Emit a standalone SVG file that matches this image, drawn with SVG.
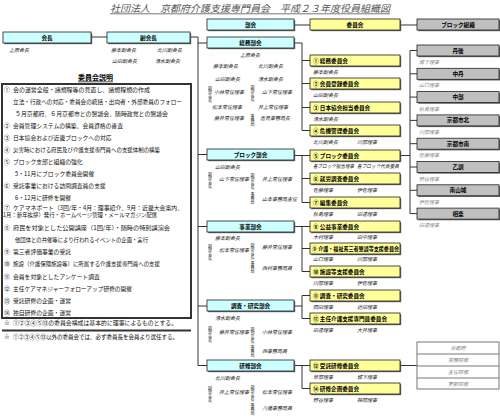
<svg xmlns="http://www.w3.org/2000/svg" width="500" height="418" viewBox="0 0 500 418">
<style>
text{font-family:"Noto Sans CJK JP","Noto Sans",sans-serif}
.bk{fill:#ccffff;stroke:#222;stroke-width:0.8}
.cm{fill:#ffff99;stroke:#222;stroke-width:0.8}
.gr{fill:#c0c0c0;stroke:#222;stroke-width:0.8}
.sh{fill:#666}
.lb{font-size:5.6px;font-weight:bold;text-anchor:middle;fill:#000}
.cl{font-size:5.6px;font-weight:bold;fill:#000}
.nm{font-size:5px;font-style:italic;fill:#222}
.gn{font-size:5px;font-style:italic;fill:#888}
.vt{font-size:4px;fill:#222;writing-mode:vertical-rl}
.ds{font-size:5.8px;fill:#111}
.ln{stroke:#333;stroke-width:1;fill:none}
</style>
<text x="250" y="12" font-size="9.6" font-style="italic" fill="#555" text-anchor="middle" textLength="280" lengthAdjust="spacingAndGlyphs">社団法人　京都府介護支援専門員会　平成２３年度役員組織図</text>
<line x1="110" y1="13.8" x2="390" y2="13.8" stroke="#555" stroke-width="0.8"/>

<g id="connectors" class="ln">
<path d="M91,37H107"/>
<path d="M190,37H198V365.5"/>
<path d="M198,43H207M198,154.5H207M198,226.5H207M198,306H207M198,365.5H207"/>
<path d="M294,25H310M400,25H417"/>
<path d="M294,43H302V130.5M302,60.5H310M302,83.5H310M302,107.5H310M302,130.5H310"/>
<path d="M294,155.5H310M302,155.5V202.5M302,178.5H310M302,202.5H310"/>
<path d="M294,226.5H310M302,226.5V271.5M302,248.5H310M302,271.5H310"/>
<path d="M294,306H302M302,295.5V318.5M302,295.5H310M302,318.5H310"/>
<path d="M294,365.5H310M302,365.5V388.5M302,388.5H310"/>
<path d="M400,155.5H410M410,50.5V213.6M410,50.5H417M410,73.8H417M410,97.1H417M410,120.4H417M410,143.7H417M410,167H417M410,190.3H417M410,213.6H417"/>
<path d="M400,365.5H417"/>
</g>

<g id="kaicho"><rect class="sh" x="4.2" y="33.2" width="88" height="11"/><rect class="bk" x="3" y="32" width="88" height="11"/><text class="lb" x="47" y="39.5">会長</text><text class="nm" x="9" y="52">上原会長</text></g>
<g id="fukukaicho"><rect class="sh" x="108.2" y="33.2" width="83" height="11"/><rect class="bk" x="107" y="32" width="83" height="11"/><text class="lb" x="148.5" y="39.5">副会長</text>
<text class="nm" x="111" y="52">藤本副会長</text><text class="nm" x="157" y="52">北川副会長</text><text class="nm" x="112" y="63">山田副会長</text><text class="nm" x="155" y="63">清水副会長</text></g>

<g id="bukai"><rect class="sh" x="208.2" y="20.2" width="87" height="11"/><rect class="bk" x="207" y="19" width="87" height="11"/><text class="lb" x="250.5" y="26.5">部会</text></g>
<g id="iinkai"><rect class="sh" x="311.2" y="20.2" width="90" height="11"/><rect class="cm" x="310" y="19" width="90" height="11"/><text class="lb" x="355" y="26.5">委員会</text></g>
<g id="block-soshiki"><rect class="sh" x="418.2" y="20.2" width="82" height="11"/><rect class="gr" x="417" y="19" width="82" height="11"/><text class="lb" x="458" y="26.5">ブロック組織</text></g>

<g id="somu-bukai"><rect class="sh" x="208.2" y="38.2" width="87" height="11"/><rect class="bk" x="207" y="37" width="87" height="11"/><text class="lb" x="250.5" y="44.5">総務部会</text>
<text class="nm" x="240" y="57">上原会長</text>
<text class="nm" x="213" y="68">藤本副会長</text><text class="nm" x="258" y="68">北川副会長</text>
<text class="nm" x="215" y="81">山田副会長</text><text class="nm" x="258" y="81">清水副会長</text>
<text class="vt" x="210" y="86">副部会長</text>
<text class="nm" x="214" y="94">小林常任理事</text>
<text class="vt" x="252.5" y="85">副部会長</text>
<text class="nm" x="262" y="94">山下常任理事</text>
<text class="nm" x="212" y="109">松本常任理事</text><text class="nm" x="258" y="109">井上常任理事</text>
<text class="nm" x="214" y="120">藤井常任理事</text>
<text class="vt" x="252.5" y="114">事務局</text>
<text class="nm" x="260" y="120">吉見事務局長</text></g>

<g id="block-bukai"><rect class="sh" x="208.2" y="150.2" width="87" height="11"/><rect class="bk" x="207" y="149" width="87" height="11"/><text class="lb" x="250.5" y="156.5">ブロック部会</text>
<text class="nm" x="215" y="169">山田副会長</text>
<text class="vt" x="210" y="172">副部会長</text>
<text class="nm" x="219" y="181">山下常任理事</text>
<text class="vt" x="252.5" y="173">副部会長</text><text class="vt" x="252.5" y="192">事務局</text>
<text class="nm" x="262" y="181">井上常任理事</text><text class="nm" x="262" y="201">山本事務局主任</text></g>

<g id="jigyo-bukai"><rect class="sh" x="208.2" y="222.2" width="87" height="11"/><rect class="bk" x="207" y="221" width="87" height="11"/><text class="lb" x="250.5" y="228.5">事業部会</text>
<text class="nm" x="215" y="240">藤本副会長</text>
<text class="vt" x="210" y="244">副部会長</text>
<text class="nm" x="219" y="252">松本常任理事</text>
<text class="vt" x="252.5" y="243">副部会長</text><text class="vt" x="252.5" y="261.5">事務局</text>
<text class="nm" x="262" y="249">藤井常任理事</text><text class="nm" x="262" y="270">西村事務局員</text></g>

<g id="chosa-bukai"><rect class="sh" x="208.2" y="301.2" width="87" height="11"/><rect class="bk" x="207" y="300" width="87" height="11"/><text class="lb" x="250.5" y="307.5">調査・研究部会</text>
<text class="nm" x="215" y="320">清水副会長</text>
<text class="vt" x="210" y="326">副部会長</text>
<text class="nm" x="219" y="334">藤井常任理事</text>
<text class="vt" x="252.5" y="327">副部会長</text><text class="vt" x="252.5" y="345.5">事務局</text>
<text class="nm" x="262" y="334">小林常任理事</text><text class="nm" x="262" y="353">西事務局員</text></g>

<g id="kenshu-bukai"><rect class="sh" x="208.2" y="361.2" width="87" height="11"/><rect class="bk" x="207" y="360" width="87" height="11"/><text class="lb" x="250.5" y="367.5">研修部会</text>
<text class="nm" x="215" y="380">北川副会長</text>
<text class="vt" x="210" y="386">副部会長</text>
<text class="nm" x="219" y="394">井上常任理事</text>
<text class="vt" x="252.5" y="385">副部会長</text><text class="vt" x="252.5" y="403.5">事務局</text>
<text class="nm" x="262" y="394">松本常任理事</text><text class="nm" x="262" y="410">八幡事務局員</text></g>

<g id="c1"><rect class="sh" x="311.2" y="56.2" width="90" height="11"/><rect class="cm" x="310" y="55" width="90" height="11"/><text class="cl" x="313" y="62.5">① 総務委員会</text><text class="nm" x="313" y="74">藤本副会長</text></g>
<g id="c2"><rect class="sh" x="311.2" y="79.2" width="90" height="11"/><rect class="cm" x="310" y="78" width="90" height="11"/><text class="cl" x="313" y="85.5">② 会員登録委員会</text><text class="nm" x="313" y="97">山田副会長</text></g>
<g id="c3"><rect class="sh" x="311.2" y="103.2" width="90" height="11"/><rect class="cm" x="310" y="102" width="90" height="11"/><text class="cl" x="313" y="109.5">③ 日本協会担当委員会</text><text class="nm" x="313" y="121">清水副会長</text></g>
<g id="c4"><rect class="sh" x="311.2" y="126.2" width="90" height="11"/><rect class="cm" x="310" y="125" width="90" height="11"/><text class="cl" x="313" y="132.5">④ 危機管理委員会</text><text class="nm" x="313" y="144">北川副会長</text><text class="nm" x="357" y="144">川部理事</text></g>
<g id="c5"><rect class="sh" x="311.2" y="151.2" width="90" height="11"/><rect class="cm" x="310" y="150" width="90" height="11"/><text class="cl" x="313" y="157.5">⑤ ブロック委員会</text><text class="nm" x="313" y="168" textLength="41" lengthAdjust="spacingAndGlyphs">各ブロック担当理事</text><text class="nm" x="357" y="168" textLength="42" lengthAdjust="spacingAndGlyphs">各ブロック代表委員</text></g>
<g id="c6"><rect class="sh" x="311.2" y="174.2" width="90" height="11"/><rect class="cm" x="310" y="173" width="90" height="11"/><text class="cl" x="313" y="180.5">⑥ 就労調査委員会</text><text class="nm" x="313" y="192">佐藤理事</text><text class="nm" x="357" y="192">伊佐理事</text></g>
<g id="c7"><rect class="sh" x="311.2" y="198.2" width="90" height="11"/><rect class="cm" x="310" y="197" width="90" height="11"/><text class="cl" x="313" y="204.5">⑦ 編集委員会</text><text class="nm" x="313" y="216">秋島理事</text><text class="nm" x="357" y="216">田邊理事</text></g>
<g id="c8"><rect class="sh" x="311.2" y="222.2" width="90" height="11"/><rect class="cm" x="310" y="221" width="90" height="11"/><text class="cl" x="313" y="228.5">⑧ 公益事業委員会</text><text class="nm" x="313" y="239">木村理事</text><text class="nm" x="357" y="239">田中理事</text></g>
<g id="c9"><rect class="sh" x="311.2" y="244.2" width="90" height="11"/><rect class="cm" x="310" y="243" width="90" height="11"/><text class="cl" x="312" y="250.5" textLength="87" lengthAdjust="spacingAndGlyphs">⑨ 介護・福祉系三者懇談等支援委員会</text><text class="nm" x="313" y="261">山口理事</text><text class="nm" x="357" y="261">川部理事</text></g>
<g id="c10"><rect class="sh" x="311.2" y="267.2" width="90" height="11"/><rect class="cm" x="310" y="266" width="90" height="11"/><text class="cl" x="313" y="273.5">⑩ 施設等支援委員会</text><text class="nm" x="313" y="285">川部理事</text><text class="nm" x="357" y="285">伊佐理事</text></g>
<g id="c11"><rect class="sh" x="311.2" y="291.2" width="90" height="11"/><rect class="cm" x="310" y="290" width="90" height="11"/><text class="cl" x="313" y="297.5">⑪ 調査・研究委員会</text><text class="nm" x="313" y="309">岡田理事</text><text class="nm" x="357" y="309">近田理事</text></g>
<g id="c12"><rect class="sh" x="311.2" y="314.2" width="90" height="11"/><rect class="cm" x="310" y="313" width="90" height="11"/><text class="cl" x="313" y="320.5">⑫ 主任介護支援専門員委員会</text><text class="nm" x="313" y="332">田邊理事</text><text class="nm" x="357" y="332">大井理事</text></g>
<g id="c13"><rect class="sh" x="311.2" y="361.2" width="90" height="11"/><rect class="cm" x="310" y="360" width="90" height="11"/><text class="cl" x="313" y="367.5">⑬ 受託研修委員会</text><text class="nm" x="313" y="379">草部理事</text><text class="nm" x="357" y="379">城下理事</text></g>
<g id="c14"><rect class="sh" x="311.2" y="384.2" width="90" height="11"/><rect class="cm" x="310" y="383" width="90" height="11"/><text class="cl" x="313" y="390.5">⑭ 研修企画委員会</text><text class="nm" x="313" y="402">野谷理事</text><text class="nm" x="357" y="402">鈴岡理事</text></g>

<g id="b1"><rect class="sh" x="418.2" y="46.2" width="82" height="11"/><rect class="gr" x="417" y="45" width="82" height="11"/><text class="lb" x="458" y="52.5">丹後</text><text class="gn" x="419" y="64">城下理事</text></g>
<g id="b2"><rect class="sh" x="418.2" y="69.5" width="82" height="11"/><rect class="gr" x="417" y="68.3" width="82" height="11"/><text class="lb" x="458" y="75.8">中丹</text><text class="gn" x="419" y="87.3">山口理事</text></g>
<g id="b3"><rect class="sh" x="418.2" y="92.8" width="82" height="11"/><rect class="gr" x="417" y="91.6" width="82" height="11"/><text class="lb" x="458" y="99.1">中部</text><text class="gn" x="419" y="110.6">秋島理事</text></g>
<g id="b4"><rect class="sh" x="418.2" y="116.1" width="82" height="11"/><rect class="gr" x="417" y="114.9" width="82" height="11"/><text class="lb" x="458" y="122.4">京都市北</text><text class="gn" x="419" y="133.9">川部理事</text></g>
<g id="b5"><rect class="sh" x="418.2" y="139.4" width="82" height="11"/><rect class="gr" x="417" y="138.2" width="82" height="11"/><text class="lb" x="458" y="145.7">京都市南</text><text class="gn" x="419" y="157.2">佐藤理事</text></g>
<g id="b6"><rect class="sh" x="418.2" y="162.7" width="82" height="11"/><rect class="gr" x="417" y="161.5" width="82" height="11"/><text class="lb" x="458" y="169">乙訓</text><text class="gn" x="419" y="180.5">野谷理事</text></g>
<g id="b7"><rect class="sh" x="418.2" y="186" width="82" height="11"/><rect class="gr" x="417" y="184.8" width="82" height="11"/><text class="lb" x="458" y="192.3">南山城</text><text class="gn" x="419" y="203.8">伊佐理事</text></g>
<g id="b8"><rect class="sh" x="418.2" y="209.3" width="82" height="11"/><rect class="gr" x="417" y="208.1" width="82" height="11"/><text class="lb" x="458" y="215.6">相楽</text><text class="gn" x="419" y="227.1">田邊理事</text></g>

<g id="training-list">
<rect x="417" y="342" width="82" height="47" fill="#fff" stroke="#777" stroke-width="1"/>
<path d="M417,354H499M417,366H499M417,378H499" stroke="#777" stroke-width="1"/>
<g class="gn" text-anchor="middle"><text x="458" y="350">京都府</text><text x="458" y="362">実務研修</text><text x="458" y="374">主任研修</text><text x="458" y="386">更新研修</text></g>
</g>

<g id="explanation">
<text x="95.5" y="80" font-size="7" font-weight="bold" text-anchor="middle">委員会説明</text>
<line x1="78" y1="81.8" x2="113" y2="81.8" stroke="#000" stroke-width="0.7"/>
<rect x="2" y="84" width="189" height="234" fill="none" stroke="#333" stroke-width="2"/>
<g class="ds">
<text x="4" y="92">①</text><text x="13" y="92" textLength="137" lengthAdjust="spacingAndGlyphs">会の運営全般・諸規程等の見直し、諸規程規の作成</text>
<text x="13" y="104" textLength="169" lengthAdjust="spacingAndGlyphs">立法・行政への対応・委員会の統括・出向者・外部委員のフォロー</text>
<text x="15" y="116" textLength="153" lengthAdjust="spacingAndGlyphs">５月京都府、６月京都市との懇談会、随時政党との懇談会</text>
<text x="4" y="128">②</text><text x="13" y="128">会員管理システムの構築、会員資格の審査</text>
<text x="4" y="140">③</text><text x="13" y="140">日本協会および近畿ブロックへの対応</text>
<text x="4" y="152">④</text><text x="13" y="152" textLength="147" lengthAdjust="spacingAndGlyphs">災害時における府民及び介護支援専門員への支援体制の構築</text>
<text x="4" y="164">⑤</text><text x="13" y="164">ブロック支部と組織の強化</text>
<text x="15" y="176">5・11月にブロック委員会開催</text>
<text x="4" y="188">⑥</text><text x="13" y="188">受託事業における訪問調査員の支援</text>
<text x="15" y="200">6・12月に研修を開催</text>
<text x="4" y="209.5">⑦</text><text x="13" y="209.5" textLength="170" lengthAdjust="spacingAndGlyphs">ケアマネポート（3回/年・4月：理事紹介、9月：近畿大会案内、</text>
<text x="3" y="217" textLength="154" lengthAdjust="spacingAndGlyphs">1月：新年挨拶）発行・ホームページ管理・メールマガジン配信</text>
<text x="4" y="230">⑧</text><text x="13" y="230" textLength="157" lengthAdjust="spacingAndGlyphs">府民を対象とした公開講座（1回/年）・随時の特別講演会</text>
<text x="15" y="242" textLength="133" lengthAdjust="spacingAndGlyphs">他団体との共催等により行われるイベントの企画・実行</text>
<text x="4" y="254">⑨</text><text x="13" y="254">第三者評価事業の受託</text>
<text x="4" y="266">⑩</text><text x="13" y="266" textLength="147" lengthAdjust="spacingAndGlyphs">施設（介護保険施設等）に所属する介護支援専門員への支援</text>
<text x="4" y="279">⑪</text><text x="13" y="279">会員を対象としたアンケート調査</text>
<text x="4" y="291">⑫</text><text x="13" y="291" textLength="119" lengthAdjust="spacingAndGlyphs">主任ケアマネジャーフォローアップ研修の開催</text>
<text x="4" y="303">⑬</text><text x="13" y="303">受託研修の企画・運営</text>
<text x="4" y="315">⑭</text><text x="13" y="315">独自研修の企画・運営</text>
<text x="4" y="325">※</text><text x="13" y="325" textLength="164" lengthAdjust="spacingAndGlyphs">①②③④⑤⑬の委員会構成は基本的に理事によるものとする。</text>
<text x="4" y="339">※</text><text x="13" y="339" textLength="165" lengthAdjust="spacingAndGlyphs">①②③④⑤⑬以外の委員会では、必ず委員長を会員より選任する。</text>
</g>
<line x1="2" y1="330.5" x2="191" y2="330.5" stroke="#333" stroke-width="2"/>
</g>
</svg>
